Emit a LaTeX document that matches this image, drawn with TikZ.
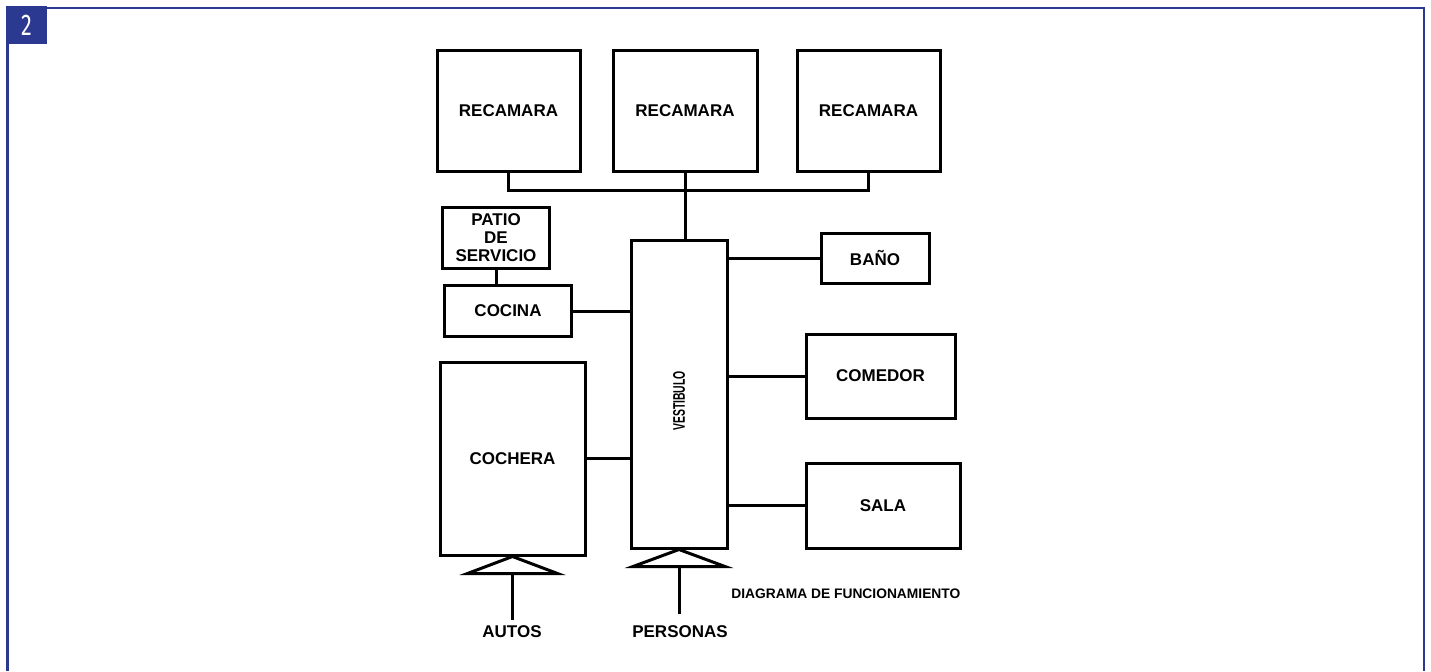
\documentclass[tikz,border=0pt]{standalone}
\usepackage{fontspec}
\usepackage{graphicx}
\setmainfont{Liberation Sans}
\newfontfamily\badgefont{Fira Sans}
\definecolor{frameblue}{RGB}{43,57,144}
\usetikzlibrary{positioning}

\tikzset{
  room/.style={draw, line width=1.5pt, inner sep=0pt, font=\fontsize{8.5}{9}\selectfont\bfseries, align=center},
  link/.style={line width=1.5pt},
  entry/.style={line width=1.5pt, line join=miter},
  lbl/.style={inner sep=0pt, font=\fontsize{8.5}{9}\selectfont\bfseries}
}

\begin{document}
\begin{tikzpicture}[x=0.5pt, y=-0.5pt]
\useasboundingbox (0,0) rectangle (1431,671);
% frame and number badge
\draw[frameblue, line width=1.4pt] (7.5,671) -- (7.5,8) -- (1424,8) -- (1424,671);
\node[fill=frameblue, inner sep=0pt, minimum width=20.5pt, minimum height=19pt,
      text=white, font=\badgefont\fontsize{15}{15}\selectfont] (badge) at (26.5,25) {\scalebox{0.72}[1]{2}};

% rooms
\node[room, minimum width=71.5pt, minimum height=60.5pt] (rec1) at (508.5,110.5) {RECAMARA};
\node[room, minimum width=72pt, minimum height=60.5pt] (rec2) at (685,110.5) {RECAMARA};
\node[room, minimum width=71.5pt, minimum height=60.5pt] (rec3) at (868.5,110.5) {RECAMARA};
\node[room, minimum width=53.5pt, minimum height=30.5pt] (patio) at (496,237.5) {PATIO\\DE\\SERVICIO};
\node[room, minimum width=63.5pt, minimum height=25.5pt] (cocina) at (508,311) {COCINA};
\node[room, minimum width=72.5pt, minimum height=96.5pt] (cochera) at (512.5,458.5) {COCHERA};
\node[room, minimum width=48pt, minimum height=154pt] (vest) at (679,394) {};
\node[inner sep=0pt, rotate=90, font=\fontsize{8.4}{8}\selectfont\bfseries] (vesttxt) at (679,401)
  {\scalebox{0.62}[1]{VESTIBULO}};
\node[room, minimum width=54pt, minimum height=25pt] (bano) at (875,258) {BAÑO};
\node[room, minimum width=74.5pt, minimum height=42pt] (comedor) at (880.5,376) {COMEDOR};
\node[room, minimum width=77pt, minimum height=42.5pt] (sala) at (883,505.5) {SALA};

% bedrooms to hall
\coordinate (bus) at (685,190);
\draw[link] (rec1.south) |- (bus) -| (rec3.south);
\draw[link] (rec2.south) -- (rec2.south |- vest.north);
% rooms to hall
\draw[link] (patio.south) -- (patio.south |- cocina.north);
\draw[link] (cocina.east) -- (cocina.east -| vest.west);
\draw[link] (cochera.east) -- (cochera.east -| vest.west);
\draw[link] (vest.east |- bano.west) -- (bano.west);
\draw[link] (vest.east |- comedor.west) -- (comedor.west);
\draw[link] (vest.east |- sala.west) -- (sala.west);

% entrances
\node[lbl] (autos) at (512,632) {AUTOS};
\node[lbl] (personas) at (680,632) {PERSONAS};
\coordinate (autosend) at (512,620);
\coordinate (persend) at (680,614);
\draw[entry] (cochera.south) -- ++(-45,17) -- ++(90,0) -- cycle;
\draw[entry] (vest.south) -- ++(-46,17) -- ++(92,0) -- cycle;
\draw[link] ([yshift=-8.5pt]cochera.south) -- (cochera.south |- autosend);
\draw[link] ([yshift=-8.5pt]vest.south) -- (vest.south |- persend);

\node[lbl, anchor=west, font=\fontsize{6.9}{7}\selectfont\bfseries] (title) at (731,594) {DIAGRAMA DE FUNCIONAMIENTO};
\end{tikzpicture}
\end{document}
